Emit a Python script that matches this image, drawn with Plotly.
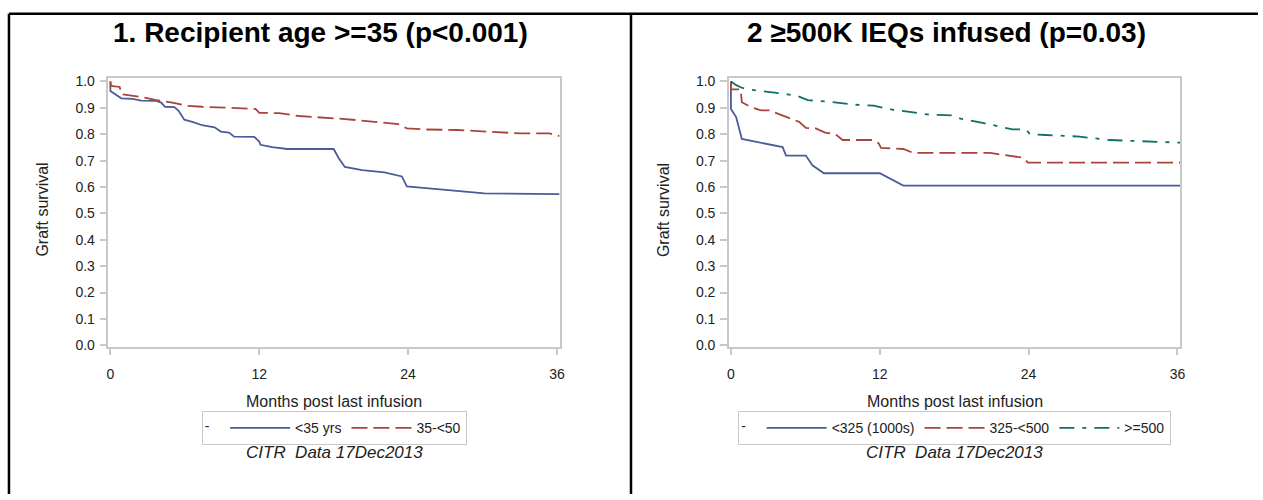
import plotly.graph_objects as go

# ---------------- data ----------------
x_ticks = [0, 12, 24, 36]
y_ticks = [0.0, 0.1, 0.2, 0.3, 0.4, 0.5, 0.6, 0.7, 0.8, 0.9, 1.0]

# Panel 1: recipient age
t_lt35 = [0, 0, 0.88, 1.8, 2.5, 3.7, 4.1, 4.4, 5.16, 5.5, 5.96, 6.6, 7.4, 7.97, 8.4, 8.9,
          9.57, 9.97, 11.6, 12.0, 12.1, 13.05, 14.25, 18.0, 18.4, 18.9, 20.3, 22.1, 23.5,
          23.9, 25.3, 27.7, 30.15, 36.2]
s_lt35 = [1.0, 0.964, 0.936, 0.934, 0.927, 0.926, 0.92, 0.904, 0.903, 0.889, 0.855, 0.847,
          0.834, 0.828, 0.826, 0.81, 0.806, 0.791, 0.790, 0.772, 0.76, 0.751, 0.744, 0.744,
          0.71, 0.676, 0.664, 0.655, 0.64, 0.602, 0.596, 0.586, 0.576, 0.573]

t_35_50 = [0, 0.05, 0.75, 0.88, 2.35, 3.7, 5.0, 6.1, 7.4, 8.5, 10.6, 11.7, 12.0, 13.6, 15.2,
           16.8, 18.4, 20.0, 22.1, 23.2, 23.9, 25.3, 28.0, 30.9, 33.1, 35.4, 36.2]
s_35_50 = [1.0, 0.983, 0.979, 0.952, 0.942, 0.929, 0.92, 0.908, 0.904, 0.902, 0.898, 0.896,
           0.881, 0.88, 0.869, 0.865, 0.859, 0.853, 0.843, 0.838, 0.822, 0.818, 0.816, 0.81,
           0.803, 0.803, 0.793]

# Panel 2: IEQs infused
t_lt325 = [0, 0, 0.42, 0.88, 4.17, 4.44, 6.04, 6.57, 7.5, 12.0, 13.9, 36.25]
s_lt325 = [1.0, 0.896, 0.865, 0.782, 0.751, 0.719, 0.719, 0.682, 0.652, 0.652, 0.605, 0.605]

t_325_500 = [0, 0, 0.78, 0.88, 1.63, 2.43, 3.1, 3.77, 4.84, 5.5, 6.04, 6.84, 7.6, 8.45, 9.0,
             11.5, 11.9, 12.1, 13.9, 14.7, 20.9, 22.5, 23.55, 23.95, 36.25]
s_325_500 = [1.0, 0.97, 0.97, 0.921, 0.902, 0.89, 0.89, 0.878, 0.859, 0.847, 0.824, 0.822,
             0.806, 0.799, 0.778, 0.778, 0.766, 0.748, 0.744, 0.729, 0.729, 0.717, 0.711,
             0.692, 0.692]

t_ge500 = [0, 0.43, 0.83, 1.36, 2.43, 4.57, 5.5, 6.2, 7.8, 9.9, 11.5, 13.1, 14.7, 15.8, 17.9,
           18.5, 20.3, 21.9, 22.7, 23.8, 24.1, 25.4, 28.1, 30.5, 32.3, 34.5, 36.25]
s_ge500 = [1.0, 0.986, 0.977, 0.97, 0.964, 0.951, 0.942, 0.929, 0.924, 0.912, 0.908, 0.892,
           0.883, 0.875, 0.871, 0.859, 0.843, 0.828, 0.818, 0.818, 0.8, 0.797, 0.791, 0.778,
           0.774, 0.771, 0.768]

titles = ["1. Recipient age >=35 (p<0.001)", "2 \u2265500K IEQs infused (p=0.03)"]
x_title = "Months post last infusion"
y_title = "Graft survival"
source_note = "CITR  Data 17Dec2013"

# ---------------- style ----------------
W, H = 1263, 500
FONT = "Liberation Sans, Arial, sans-serif"
BLUE, RED, GREEN = "#4A5C9A", "#A8443A", "#0E6F66"
FRAME = "#C8C8C8"
TXT = "#222222"


def px(x):
    return x / W


def py(y):
    return 1 - y / H


fig = go.Figure()

panels = [
    dict(xa="x", ya="y", leg="legend", series=[
        (t_lt35, s_lt35, "<35 yrs", BLUE, "solid"),
        (t_35_50, s_35_50, "35-<50", RED, "16px,6px"),
    ]),
    dict(xa="x2", ya="y2", leg="legend2", series=[
        (t_lt325, s_lt325, "<325 (1000s)", BLUE, "solid"),
        (t_325_500, s_325_500, "325-<500", RED, "16px,6px"),
        (t_ge500, s_ge500, ">=500", GREEN, "15px,8px,4px,8px"),
    ]),
]

for p in panels:
    for t, s, name, col, dash in p["series"]:
        fig.add_trace(go.Scatter(
            x=t, y=s, mode="lines", name=name, xaxis=p["xa"], yaxis=p["ya"],
            legend=p["leg"], line=dict(color=col, width=1.8, dash=dash),
            hoverinfo="skip"))

# plot frames in pixels
frames = [(107, 561), (731, 1185)]
top, bottom = 75, 350

axis_common = dict(showgrid=False, zeroline=False, showline=True, linecolor=FRAME,
                   linewidth=1.5, mirror=True, ticks="outside", tickcolor=FRAME,
                   tickwidth=1.5, tickfont=dict(family=FONT, size=14, color=TXT))

for i, (l, r) in enumerate(frames):
    sfx = "" if i == 0 else str(i + 1)
    fig.update_layout(**{
        "xaxis" + sfx: dict(axis_common, domain=[px(l), px(r)], range=[-0.16, 36.24],
                            tickvals=x_ticks, ticklen=6, ticklabelstandoff=7,
                            anchor="y" + sfx),
        "yaxis" + sfx: dict(axis_common, domain=[py(bottom), py(top)],
                            range=[-0.0063, 1.0149], tickvals=y_ticks, tickformat=".1f",
                            ticklen=7, ticklabelstandoff=2, anchor="x" + sfx),
    })
    cx = (l + r) / 2
    ann = [
        dict(text="<b>%s</b>" % titles[i], x=px(cx + (i and -8 or -14)), y=py(29),
             font=dict(family=FONT, size=28, color="#000000")),
        dict(text=x_title, x=px(cx), y=py(406), font=dict(family=FONT, size=16, color=TXT)),
        dict(text="<i>%s</i>" % source_note, x=px(cx), y=py(458),
             font=dict(family=FONT, size=17, color=TXT)),
        dict(text=y_title, x=px(l - 66), y=py(210), textangle=-90,
             font=dict(family=FONT, size=16, color=TXT)),
    ]
    for a in ann:
        fig.add_annotation(xref="paper", yref="paper", showarrow=False,
                           xanchor="center", yanchor="middle", **a)
    fig.update_layout(**{
        ("legend" if i == 0 else "legend2"): dict(
            orientation="h", x=px(cx), xanchor="center", y=py(433), yanchor="middle",
            bordercolor=FRAME, borderwidth=1, bgcolor="white",
            title=dict(text="-  ", side="left", font=dict(family=FONT, size=14, color=TXT)),
            font=dict(family=FONT, size=14, color=TXT), itemwidth=60,
            tracegroupgap=0)
    })

# table borders (decoration)
line = dict(color="black", width=2.5)
fig.add_shape(type="line", xref="paper", yref="paper", x0=px(7), x1=1, y0=py(10), y1=py(10), line=line)
fig.add_shape(type="line", xref="paper", yref="paper", x0=px(7), x1=px(7), y0=py(10), y1=0, line=line)
fig.add_shape(type="line", xref="paper", yref="paper", x0=px(632.5), x1=px(632.5), y0=py(10), y1=0, line=line)

fig.update_layout(width=W, height=H, margin=dict(l=0, r=0, t=0, b=0),
                  paper_bgcolor="white", plot_bgcolor="white", showlegend=True)

fig.write_html("out.html", config={"displayModeBar": False},
               post_script="document.body.style.margin='0';document.body.style.overflow='hidden';")
